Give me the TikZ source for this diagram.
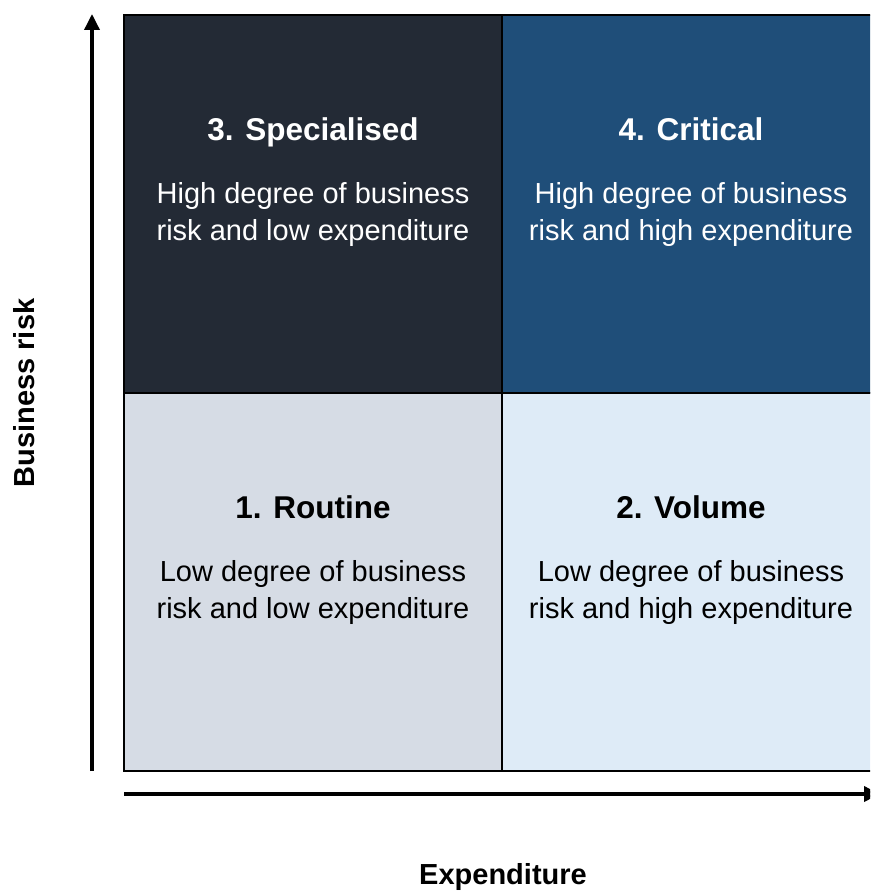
\documentclass[tikz,border=0pt]{standalone}
\usepackage{fontspec}
\setmainfont{Liberation Sans}
\usetikzlibrary{arrows.meta}
\definecolor{qdark}{HTML}{232A35}
\definecolor{qblue}{HTML}{1F4E79}
\definecolor{qgray}{HTML}{D6DCE5}
\definecolor{qlight}{HTML}{DEEBF7}
\tikzset{
  quad/.style={draw=black, line width=1.5pt, minimum width=378pt, minimum height=378pt, inner sep=0pt, outer sep=0pt},
  qtitle/.style={anchor=base, font=\fontsize{31.5}{37}\selectfont\bfseries},
  qbody/.style={anchor=base, align=center, font=\fontsize{29}{36.5}\selectfont},
  axis/.style={line width=3.5pt, -{Triangle[length=16pt,width=15pt]}},
  axlabel/.style={font=\fontsize{29}{34}\selectfont\bfseries}
}
\begin{document}
\begin{tikzpicture}[x=1pt,y=-1pt]
\useasboundingbox (0,0) rectangle (870,891);
\clip (0,0) rectangle (870,891);
\node[quad, fill=qdark]  (q3) at (313,204) {};
\node[quad, fill=qblue]  (q4) at (691,204) {};
\node[quad, fill=qgray]  (q1) at (313,582) {};
\node[quad, fill=qlight] (q2) at (691,582) {};
\node[qtitle, text=white] (t3) at (313,140) {3. Specialised};
\node[qbody, text=white]  (b3) at (313,240) {High degree of business\\risk and low expenditure};
\node[qtitle, text=white] (t4) at (691,140) {4. Critical};
\node[qbody, text=white]  (b4) at (691,240) {High degree of business\\risk and high expenditure};
\node[qtitle, text=black] (t1) at (313,518) {1. Routine};
\node[qbody, text=black]  (b1) at (313,618) {Low degree of business\\risk and low expenditure};
\node[qtitle, text=black] (t2) at (691,518) {2. Volume};
\node[qbody, text=black]  (b2) at (691,618) {Low degree of business\\risk and high expenditure};
\coordinate (yo) at (92,771);
\coordinate (yt) at (92,14);
\coordinate (xo) at (124,794);
\coordinate (xt) at (880,794);
\draw[axis] (yo) -- (yt);
\draw[axis] (xo) -- (xt);
\node[axlabel, rotate=90] (ylab) at (24,393) {Business risk};
\node[axlabel] (xlab) at (503,877) {Expenditure};
\end{tikzpicture}
\end{document}
